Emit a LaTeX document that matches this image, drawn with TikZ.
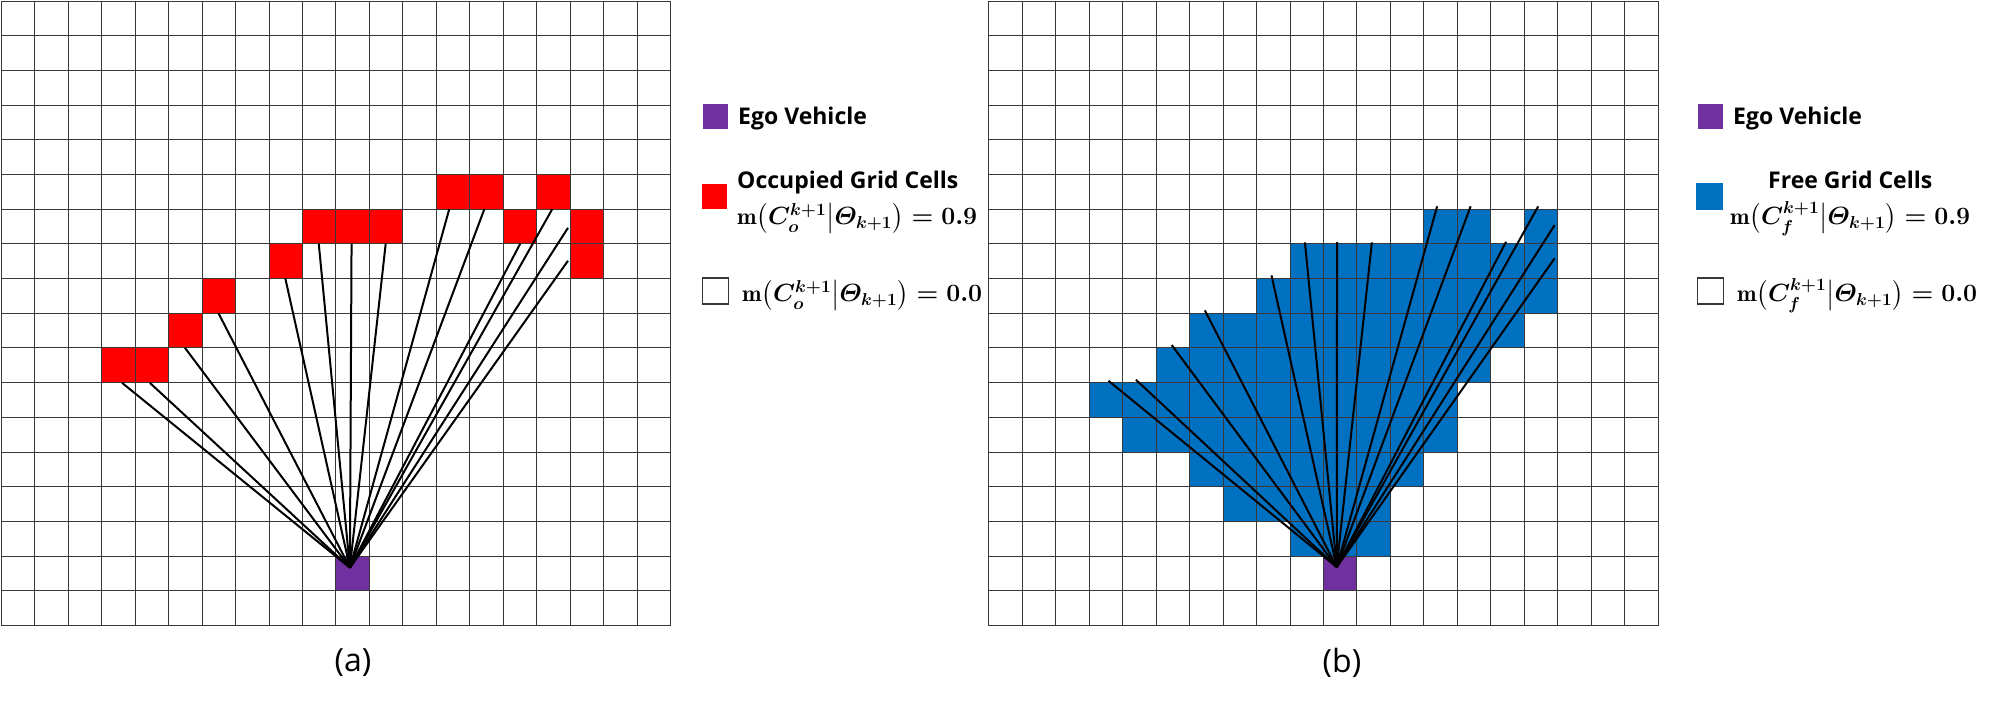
\documentclass[tikz,border=0pt]{standalone}
\usepackage{amsmath}
\usepackage{fontspec}
\newfontfamily\lgfont{Open Sans}
\definecolor{egopurple}{HTML}{7030A0}
\definecolor{occred}{HTML}{FF0000}
\definecolor{freeblue}{HTML}{0070C0}
\definecolor{gridgray}{HTML}{383838}
\newcommand{\cellmass}[2]{{\boldmath$\mathrm{m}\bigl(C_{#1}^{k+1}\big|\varTheta_{k+1}\bigr)=#2$}}
\begin{document}
\begin{tikzpicture}[x=1pt,y=-1pt,
  gridline/.style={draw=gridgray, line width=1.6pt, line cap=rect},
  ray/.style={draw=black, line width=2pt},
  legbox/.style={minimum size=25pt, inner sep=0pt, anchor=north west},
  legtext/.style={anchor=base west, inner sep=0pt, font=\lgfont\bfseries\fontsize{23}{28}\selectfont},
  legmath/.style={anchor=base west, inner sep=0pt, font=\fontsize{23.4}{28}\selectfont},
  caption/.style={inner sep=0pt, font=\lgfont\fontsize{32}{38}\selectfont}]
\useasboundingbox (0,0) rectangle (2000,703);
\fill[white] (0,0) rectangle (2000,703);

% ---------- grid (a) : cells ----------
\begin{scope}[shift={(1,0.7)}, x=33.45pt, y=-34.68pt]
  \foreach \c/\r in {13/5,14/5,16/5,9/6,10/6,11/6,15/6,17/6,8/7,17/7,6/8,5/9,3/10,4/10}
    \fill[occred] (\c,\r) rectangle ++(1,1);
  \fill[egopurple] (10,16) rectangle ++(1,1);
\end{scope}
% grid (a) : lines snapped to pixels
\foreach \c in {0,...,20}{
  \pgfmathsetmacro\xx{round(1+\c*33.45)+0.5}
  \draw[gridline] (\xx,1.5) -- (\xx,625.5);
}
\foreach \r in {0,...,18}{
  \pgfmathsetmacro\yy{round(0.7+\r*34.68)+0.5}
  \draw[gridline] (1.5,\yy) -- (670.5,\yy);
}
\begin{scope}[shift={(1,0.7)}, x=33.45pt, y=-34.68pt]
  \coordinate (ao) at (10.43,16.35);
  \foreach \ex/\ey [count=\i] in {3.62/11.02,4.45/11.02,5.5/10.01,6.5/9.01,8.5/8.01,9.5/7.01,10.48/7.01,11.5/7.01,13.4/6.01,14.45/6.01,15.52/7.01,16.48/6.01,16.95/6.55,16.95/7.5}{
    \coordinate (ae\i) at (\ex,\ey);
    \draw[ray] (ao) -- (ae\i);
  }
\end{scope}

% ---------- grid (b) : cells ----------
\begin{scope}[shift={(988.3,0.7)}, x=33.47pt, y=-34.68pt]
  \foreach \r/\a/\b in {6/13/14,6/16/16,7/9/16,8/8/16,9/6/15,10/5/14,11/3/13,12/4/13,13/6/12,14/7/11,15/9/11}
    \fill[freeblue] (\a,\r) rectangle (\b+1,\r+1);
  \fill[egopurple] (10,16) rectangle ++(1,1);
\end{scope}
% grid (b) : lines snapped to pixels
\foreach \c in {0,...,20}{
  \pgfmathsetmacro\xx{round(988.3+\c*33.47)+0.5}
  \draw[gridline] (\xx,1.5) -- (\xx,625.5);
}
\foreach \r in {0,...,18}{
  \pgfmathsetmacro\yy{round(0.7+\r*34.68)+0.5}
  \draw[gridline] (988.5,\yy) -- (1658.5,\yy);
}
\begin{scope}[shift={(988.3,0.7)}, x=33.47pt, y=-34.68pt]
  \coordinate (bo) at (10.41,16.33);
  \foreach \ex/\ey [count=\i] in {3.59/10.96,4.41/10.93,5.48/9.93,6.47/8.93,8.46/7.92,9.46/6.97,10.42/6.96,11.46/6.97,13.41/5.93,14.41/5.93,15.47/6.95,16.43/5.93,16.92/6.47,16.92/7.43}{
    \coordinate (be\i) at (\ex,\ey);
    \draw[ray] (bo) -- (be\i);
  }
\end{scope}

% ---------- legend (a) ----------
\node[legbox, fill=egopurple] (lpa) at (703,104) {};
\node[legtext] (tea) at (738,125) {Ego Vehicle};
\node[legbox, fill=occred] (lra) at (702,184) {};
\node[legtext] (toa) at (737,189) {Occupied Grid Cells};
\node[legmath] (m1a) at (737,225) {\cellmass{o}{0.9}};
\node[legbox, draw=gridgray, line width=1.3pt, minimum size=26pt] (lwa) at (701.5,277.5) {};
\node[legmath] (m2a) at (742,302) {\cellmass{o}{0.0}};

% ---------- legend (b) ----------
\node[legbox, fill=egopurple] (lpb) at (1698,104) {};
\node[legtext] (teb) at (1733,125) {Ego Vehicle};
\node[legbox, fill=freeblue, minimum size=27pt] (lbb) at (1696,183) {};
\node[legmath] (m1b) at (1730,225) {\cellmass{f}{0.9}};
\node[legtext, anchor=base] (tfb) at (m1b.center |- 0,189) {Free Grid Cells};
\node[legbox, draw=gridgray, line width=1.3pt, minimum size=26pt] (lwb) at (1696.5,277.5) {};
\node[legmath] (m2b) at (1737,302) {\cellmass{f}{0.0}};

% ---------- captions ----------
\node[caption] (capa) at (353,663) {(a)};
\node[caption] (capb) at (1342,663) {(b)};
\end{tikzpicture}
\end{document}
